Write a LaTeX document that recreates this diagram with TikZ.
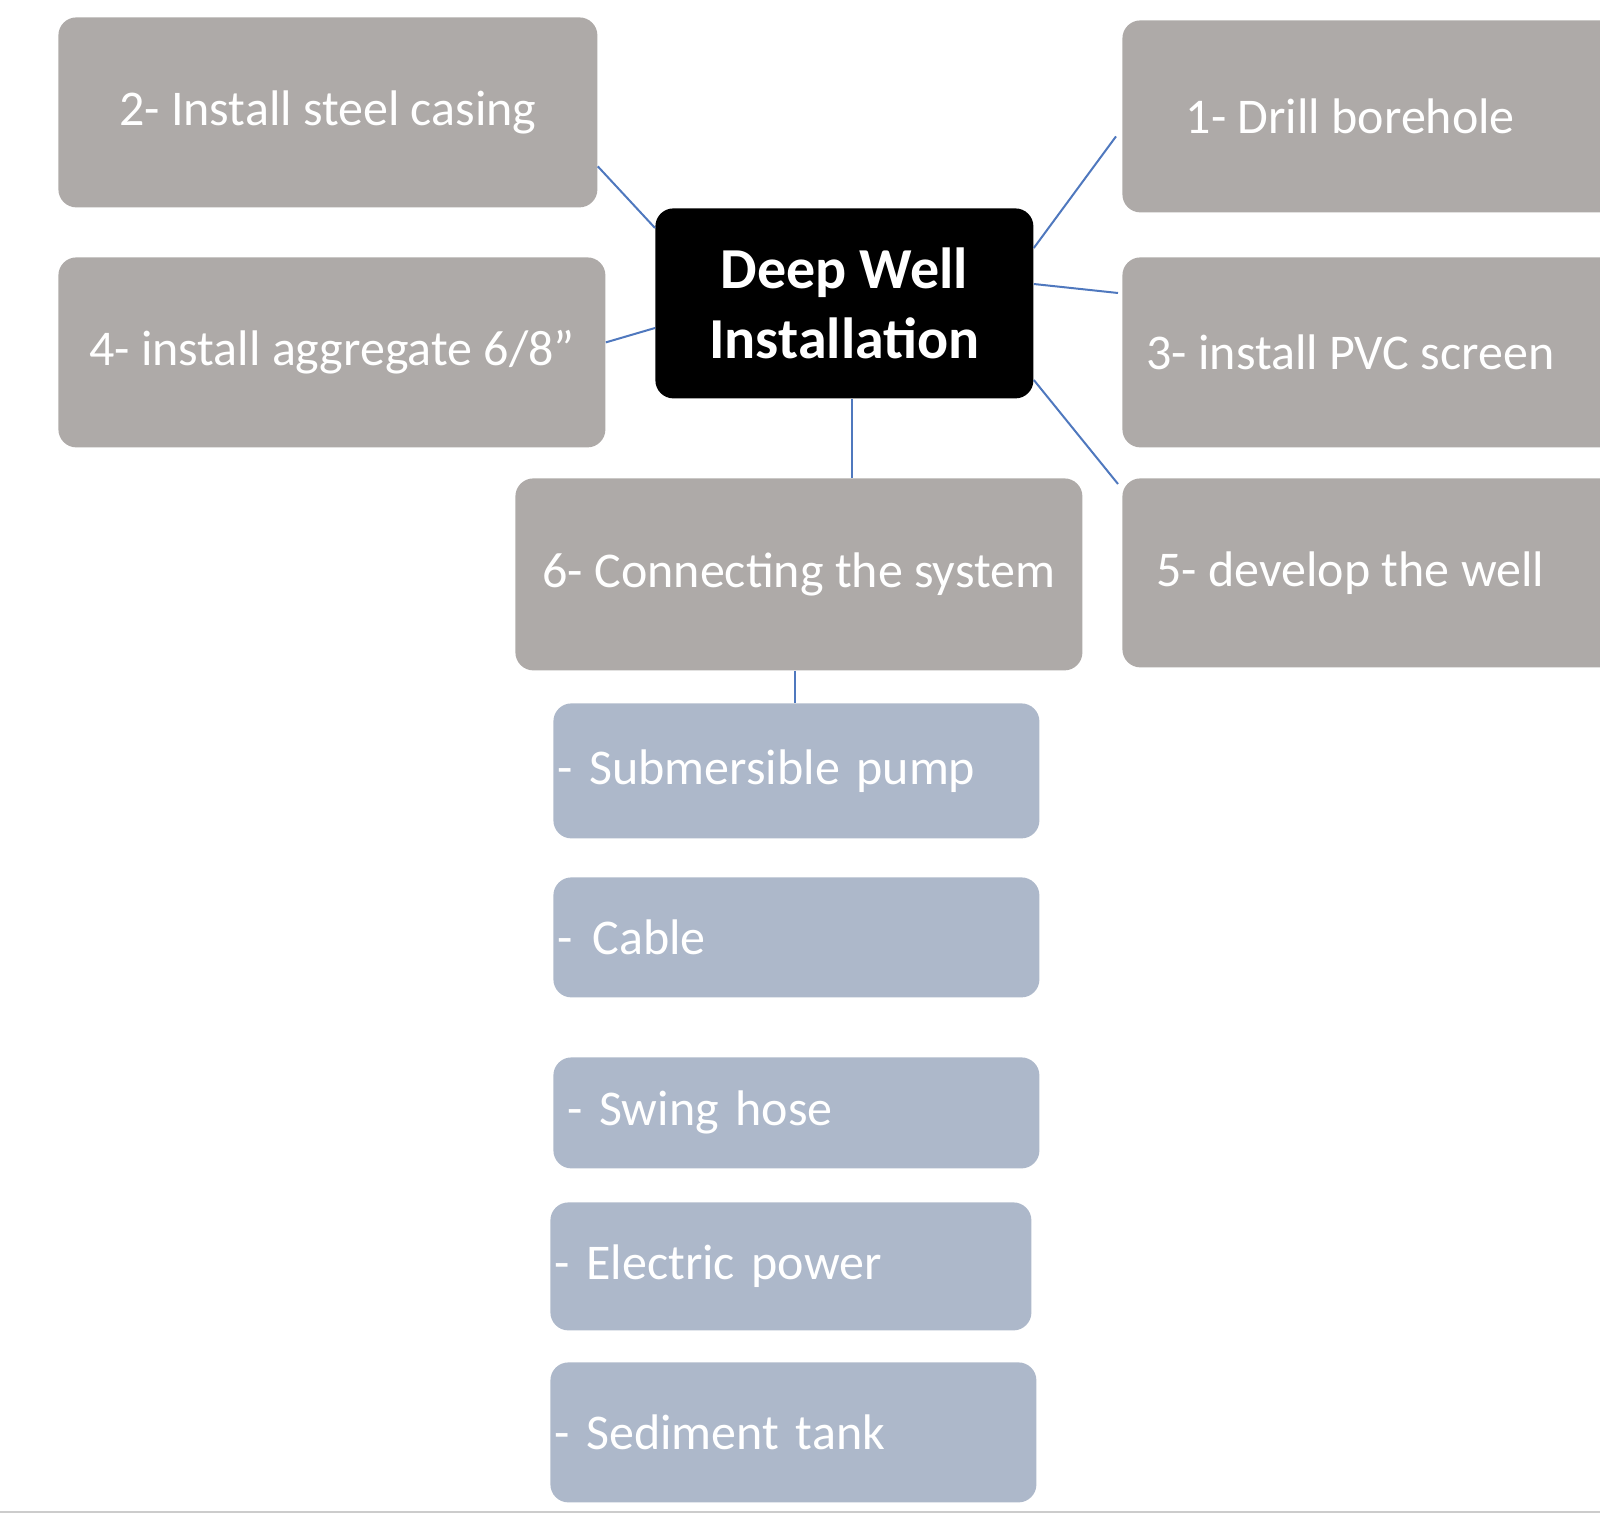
\documentclass[tikz,border=0pt]{standalone}
\usepackage{fontspec}
\setmainfont{Carlito}
\begin{document}
\begin{tikzpicture}[x=0.5pt,y=-0.5pt,
 gbox/.style={fill={rgb,255:red,174;green,170;blue,168}, rounded corners=9pt, text=white, font=\fontsize{25}{30}\selectfont, inner sep=0pt, anchor=north west},
 bbox/.style={fill={rgb,255:red,173;green,184;blue,202}, rounded corners=9pt, text=white, font=\fontsize{25}{30}\selectfont, inner sep=0pt, anchor=north west, align=left, text width=#1},
 conn/.style={draw={rgb,255:red,79;green,120;blue,190}, line width=1pt}]
\useasboundingbox (0,0) rectangle (1600,1519);
\clip (0,0) rectangle (1600,1519);
\node[gbox, minimum width=269.5pt, minimum height=95pt] (n2) at (58,17) {2- Install steel casing};
\node[gbox, minimum width=250pt, minimum height=96pt] (n1) at (1122,20) {\hspace*{-22pt}1- Drill borehole};
\node[gbox, minimum width=273.5pt, minimum height=95pt] (n4) at (58,257) {4- install aggregate 6/8”};
\node[gbox, minimum width=250pt, minimum height=95pt] (n3) at (1122,257) {\hspace*{-22pt}3- install PVC screen};
\node[gbox, minimum width=283.5pt, minimum height=96pt] (n6) at (515,478) {6- Connecting the system};
\node[gbox, minimum width=250pt, minimum height=94.5pt] (n5) at (1122,478) {\hspace*{-22pt}5- develop the well};
\node[fill=black, rounded corners=9pt, text=white, font=\bfseries\fontsize{29}{35}\selectfont, align=center, minimum width=189pt, minimum height=95pt, inner sep=0pt, anchor=north west] (c) at (655,208) {Deep Well\\Installation};
\node[bbox=243pt, minimum height=67.5pt] (s1) at (553,703) {\hspace*{2pt}- Submersible pump};
\node[bbox=243pt, minimum height=60pt] (s2) at (553,877) {\hspace*{2pt}-\hspace{10pt}Cable};
\node[bbox=243pt, minimum height=55.5pt] (s3) at (553,1057) {\hspace*{7pt}- Swing hose};
\node[bbox=240.5pt, minimum height=64pt] (s4) at (550,1202) {\hspace*{2pt}- Electric power};
\node[bbox=243pt, minimum height=70pt] (s5) at (550,1362) {\hspace*{2pt}- Sediment tank};
\draw[conn] ([yshift=-27pt]n2.east) -- ([yshift=-10pt]c.north west);
\draw[conn] ([xshift=-3pt,yshift=-10pt]n1.west) -- ([yshift=-20pt]c.north east);
\draw[conn] ([xshift=-2pt,yshift=-18pt]n3.north west) -- ([yshift=-38pt]c.north east);
\draw[conn] ([yshift=5pt]n4.east) -- ([yshift=-60pt]c.north west);
\draw[conn] ([xshift=-2pt,yshift=-3pt]n5.north west) -- ([yshift=-86pt]c.north east);
\draw[conn] (c.south -| 852,0) -- (n6.north -| 852,0);
\draw[conn] (n6.south -| 795,0) -- (s1.north -| 795,0);
\draw[line width=1pt, gray!40] (0,1512) -- (1600,1512);
\end{tikzpicture}
\end{document}
